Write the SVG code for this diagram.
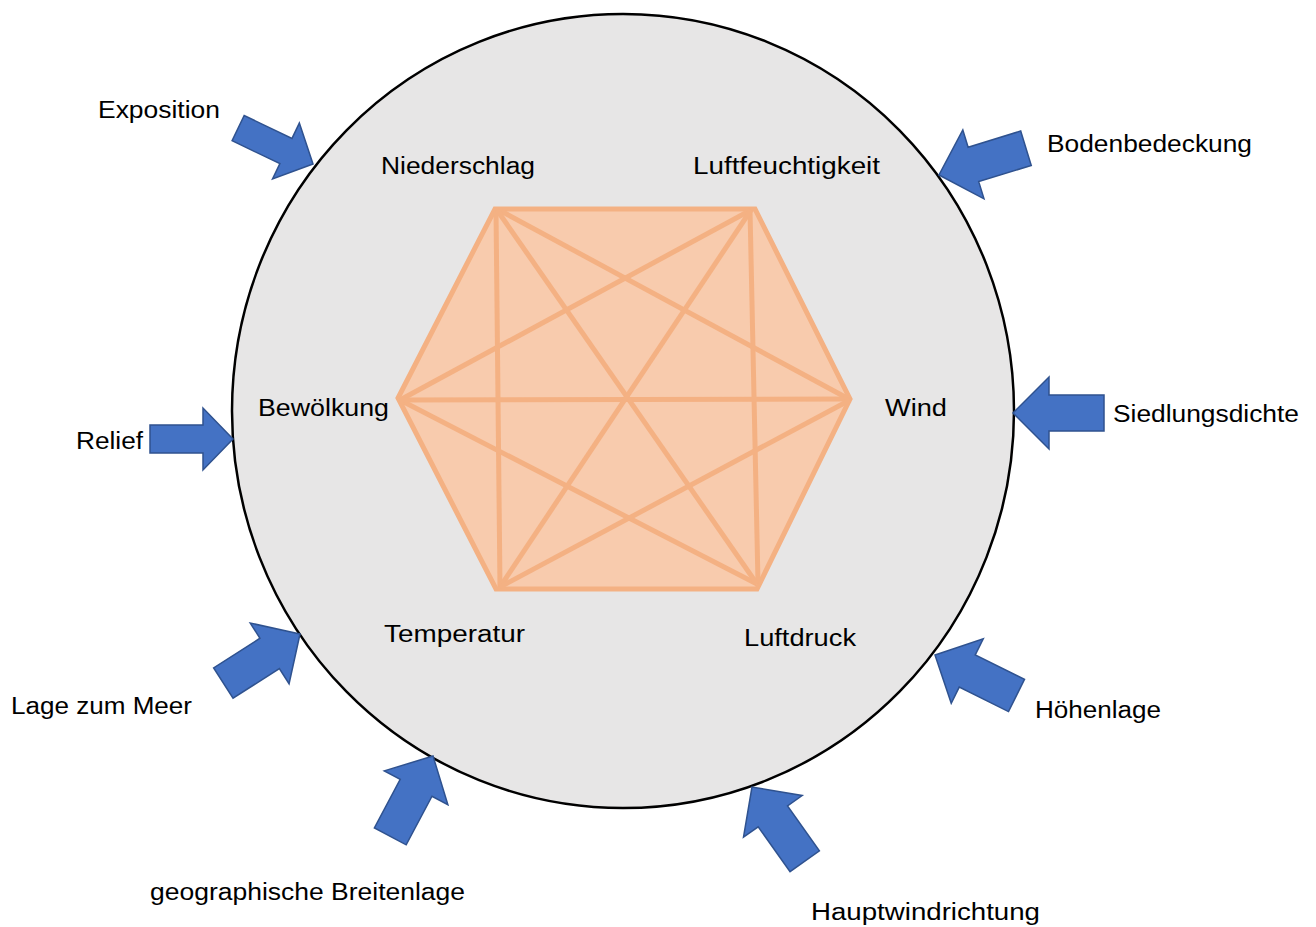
<svg xmlns="http://www.w3.org/2000/svg" xmlns:xlink="http://www.w3.org/1999/xlink" width="1316" height="927" viewBox="0 0 1316 927">
  <style>
    .lbl { font-family: "Liberation Sans", Arial, sans-serif; font-size: 23px; fill: #000; }
    .arrow { fill: #4472C4; stroke: #2F528F; stroke-width: 1.5; stroke-linejoin: miter; }
    .hex { fill: #F8CBAD; stroke: #F4B183; stroke-width: 5; stroke-linejoin: miter; }
    .edge { stroke: #F4B183; stroke-width: 5; fill: none; stroke-linecap: butt; }
  </style>
  <defs>
    <path id="bigArrow" d="M0,0 L-36,-36 L-36,-18 L-91,-18 L-91,18 L-36,18 L-36,36 Z"/>
    <path id="smallArrow" d="M0,0 L-30,-31 L-30,-14 L-83,-14 L-83,14 L-30,14 L-30,31 Z"/>
  </defs>
  <rect width="1316" height="927" fill="#FFFFFF"/>

  <g id="circle">
    <ellipse cx="623" cy="411" rx="391" ry="397" fill="#E7E6E6" stroke="#000" stroke-width="2.5"/>
  </g>

  <g id="hexagon">
    <polygon class="hex" points="495,209 755,209 850,399 757,589 496,589 398,398"/>
  </g>

  <g id="connectors">
    <line class="edge" x1="496" y1="210" x2="500" y2="587"/>
    <line class="edge" x1="750" y1="210" x2="758" y2="583"/>
    <line class="edge" x1="501" y1="211" x2="847" y2="398"/>
    <line class="edge" x1="400" y1="400" x2="751" y2="210"/>
    <line class="edge" x1="400" y1="400" x2="757" y2="584"/>
    <line class="edge" x1="400" y1="400" x2="847" y2="399"/>
    <line class="edge" x1="497" y1="210" x2="757" y2="584"/>
    <line class="edge" x1="751" y1="210" x2="500" y2="587"/>
    <line class="edge" x1="850" y1="400" x2="500" y2="587"/>
  </g>

  <g id="arrows">
    <use id="arrow-exposition" href="#smallArrow" class="arrow" transform="translate(313,164) rotate(25.6)"/>
    <use id="arrow-bodenbedeckung" href="#bigArrow" class="arrow" transform="translate(939,175) rotate(162.9)"/>
    <use id="arrow-siedlungsdichte" href="#bigArrow" class="arrow" transform="translate(1013,413) rotate(180)"/>
    <use id="arrow-relief" href="#smallArrow" class="arrow" transform="translate(233,439)"/>
    <use id="arrow-lage" href="#bigArrow" class="arrow" transform="translate(300,634) rotate(-32.6)"/>
    <use id="arrow-hoehenlage" href="#bigArrow" class="arrow" transform="translate(935,655) rotate(-153.6)"/>
    <use id="arrow-breitenlage" href="#bigArrow" class="arrow" transform="translate(433,756) rotate(-62)"/>
    <use id="arrow-hauptwind" href="#bigArrow" class="arrow" transform="translate(752,787) rotate(-125.4)"/>
  </g>

  <g id="node-niederschlag"><text class="lbl" x="381" y="174" textLength="154" lengthAdjust="spacingAndGlyphs">Niederschlag</text></g>
  <g id="node-luftfeuchtigkeit"><text class="lbl" x="693" y="174" textLength="187" lengthAdjust="spacingAndGlyphs">Luftfeuchtigkeit</text></g>
  <g id="node-bewoelkung"><text class="lbl" x="258" y="416" textLength="131" lengthAdjust="spacingAndGlyphs">Bewölkung</text></g>
  <g id="node-wind"><text class="lbl" x="885" y="416" textLength="62" lengthAdjust="spacingAndGlyphs">Wind</text></g>
  <g id="node-temperatur"><text class="lbl" x="384" y="642" textLength="141" lengthAdjust="spacingAndGlyphs">Temperatur</text></g>
  <g id="node-luftdruck"><text class="lbl" x="744" y="646" textLength="112" lengthAdjust="spacingAndGlyphs">Luftdruck</text></g>

  <g id="node-exposition"><text class="lbl" x="98" y="118" textLength="122" lengthAdjust="spacingAndGlyphs">Exposition</text></g>
  <g id="node-bodenbedeckung"><text class="lbl" x="1047" y="152" textLength="205" lengthAdjust="spacingAndGlyphs">Bodenbedeckung</text></g>
  <g id="node-siedlungsdichte"><text class="lbl" x="1113" y="422" textLength="186" lengthAdjust="spacingAndGlyphs">Siedlungsdichte</text></g>
  <g id="node-relief"><text class="lbl" x="76" y="449" textLength="67" lengthAdjust="spacingAndGlyphs">Relief</text></g>
  <g id="node-lage"><text class="lbl" x="11" y="714" textLength="181" lengthAdjust="spacingAndGlyphs">Lage zum Meer</text></g>
  <g id="node-hoehenlage"><text class="lbl" x="1035" y="718" textLength="126" lengthAdjust="spacingAndGlyphs">Höhenlage</text></g>
  <g id="node-breitenlage"><text class="lbl" x="150" y="900" textLength="315" lengthAdjust="spacingAndGlyphs">geographische Breitenlage</text></g>
  <g id="node-hauptwind"><text class="lbl" x="811" y="920" textLength="229" lengthAdjust="spacingAndGlyphs">Hauptwindrichtung</text></g>
</svg>
